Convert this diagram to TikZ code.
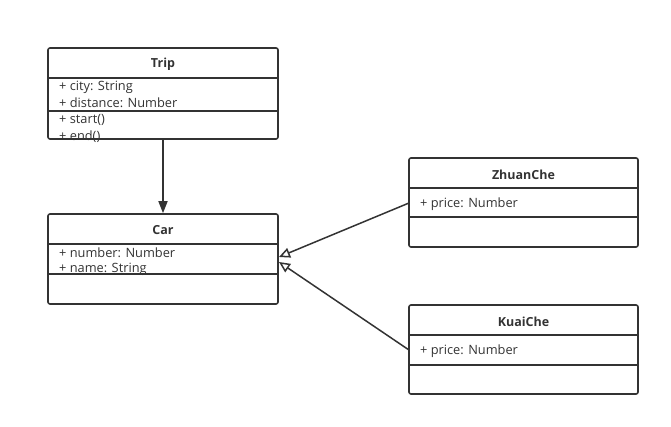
\documentclass[tikz,border=0pt]{standalone}
\usepackage{fontspec}
\setmainfont{Open Sans}
\usetikzlibrary{arrows.meta}
\definecolor{ink}{HTML}{333333}
\tikzset{
  box/.style={draw=ink, line width=1.6pt, rounded corners=2pt},
  sep/.style={draw=ink, line width=1.6pt},
  ttl/.style={font=\fontsize{12.5}{14}\selectfont\bfseries, text=ink, yshift=-1.5pt},
  mem/.style={font=\fontsize{12.8}{14}\selectfont, text=ink, anchor=west, inner sep=0pt, yshift=-1.2pt},
  assoc/.style={draw=ink, line width=1.6pt, -{Triangle[length=12pt,width=9pt]}},
  inh/.style={draw=ink, line width=1.5pt, -{Triangle[open,length=11pt,width=10pt,fill=white]}},
}
\begin{document}
\begin{tikzpicture}[x=1pt,y=-1pt]
\useasboundingbox (0,0) rectangle (671,427);
% Trip
\node[box, minimum width=230pt, minimum height=91pt, inner sep=0pt] (trip) at (163,93.5) {};
\draw[sep] (48,78) -- (278,78);
\draw[sep] (48,111) -- (278,111);
\node[ttl] (tripT) at (163,63) {Trip};
\node[mem] (trip1) at (59,86) {+ city: String};
\node[mem] (trip2) at (59,102) {+ distance: Number};
\node[mem] (trip3) at (59,119) {+ start()};
\node[mem] (trip4) at (59,135) {+ end()};
% Car
\node[box, minimum width=230pt, minimum height=90pt, inner sep=0pt] (car) at (163,259) {};
\draw[sep] (48,244) -- (278,244);
\draw[sep] (48,274) -- (278,274);
\node[ttl] (carT) at (163,229) {Car};
\node[mem] (car1) at (59,252) {+ number: Number};
\node[mem] (car2) at (59,268) {+ name: String};
% ZhuanChe
\node[box, minimum width=229pt, minimum height=89pt, inner sep=0pt] (zc) at (523.5,202.5) {};
\draw[sep] (409,188) -- (638,188);
\draw[sep] (409,217) -- (638,217);
\node[ttl] (zcT) at (523.5,173) {ZhuanChe};
\node[mem] (zc1) at (420,203) {+ price: Number};
% KuaiChe
\node[box, minimum width=229pt, minimum height=89pt, inner sep=0pt] (kc) at (523.5,349.5) {};
\draw[sep] (409,335) -- (638,335);
\draw[sep] (409,365) -- (638,365);
\node[ttl] (kcT) at (523.5,320) {KuaiChe};
\node[mem] (kc1) at (420,350) {+ price: Number};
% connectors
\draw[assoc] (trip.south) -- (car.north);
\coordinate (carIn1) at (279,257);
\coordinate (carIn2) at (279,262);
\draw[inh] (409,203) -- (carIn1);
\draw[inh] (409,350) -- (carIn2);
\end{tikzpicture}
\end{document}
